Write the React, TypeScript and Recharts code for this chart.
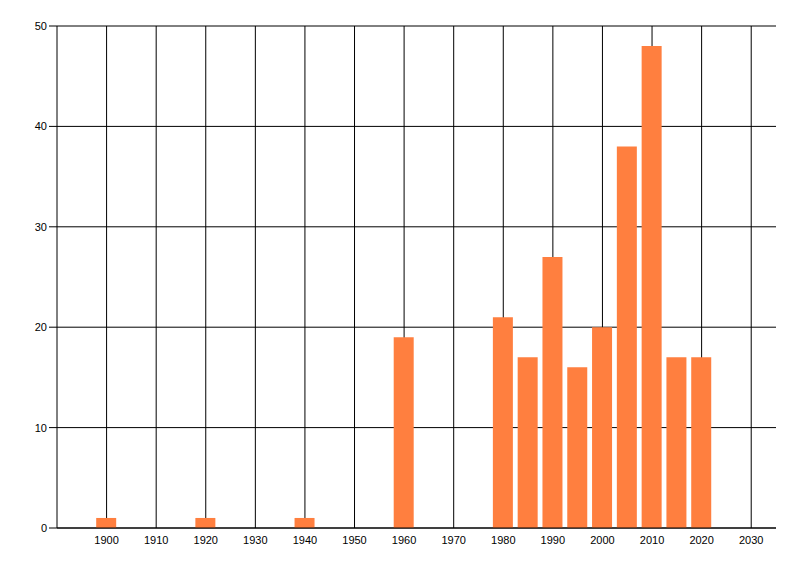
import { BarChart, Bar, XAxis, YAxis, CartesianGrid } from 'recharts'

// year buckets and their counts
const YEARS = [1900, 1920, 1940, 1960, 1980, 1985, 1990, 1995, 2000, 2005, 2010, 2015, 2020]
const COUNTS = [1, 1, 1, 19, 21, 17, 27, 16, 20, 38, 48, 17, 17]

const X_TICKS = [1900, 1910, 1920, 1930, 1940, 1950, 1960, 1970, 1980, 1990, 2000, 2010, 2020, 2030]
const Y_TICKS = [0, 10, 20, 30, 40, 50]
const X_DOMAIN = [1890, 2035]

const DATA = YEARS.map((year, i) => ({ year, count: COUNTS[i] }))

const ORANGE = '#FF7F3F'
const TICK = { fill: '#000', fontSize: 11, fontFamily: "'Liberation Sans', Arial, sans-serif" }

// decade lines only, so no border gets drawn on the right edge
const decadeLines = ({ offset }: any) => {
  const span = X_DOMAIN[1] - X_DOMAIN[0]
  return X_TICKS.map((t) => offset.left + ((t - X_DOMAIN[0]) / span) * offset.width)
}

export default function App() {
  return (
    <div style={{ position: 'absolute', left: 0, top: 0, background: '#fff' }}>
      <BarChart
        width={800}
        height={576}
        data={DATA}
        margin={{ top: 26, right: 24, bottom: 18, left: 0 }}
      >
        <CartesianGrid stroke="#000" strokeWidth={1} verticalCoordinatesGenerator={decadeLines} />
        <XAxis
          dataKey="year"
          type="number"
          domain={X_DOMAIN}
          ticks={X_TICKS}
          allowDataOverflow
          tickLine={false}
          axisLine={{ stroke: '#000' }}
          tick={TICK}
          interval={0}
        />
        <YAxis
          width={57}
          domain={[0, 50]}
          ticks={Y_TICKS}
          tickSize={8}
          tickLine={{ stroke: '#000' }}
          axisLine={{ stroke: '#000' }}
          tick={TICK}
          interval={0}
        />
        <Bar dataKey="count" fill={ORANGE} barSize={20} isAnimationActive={false} />
      </BarChart>
    </div>
  )
}
